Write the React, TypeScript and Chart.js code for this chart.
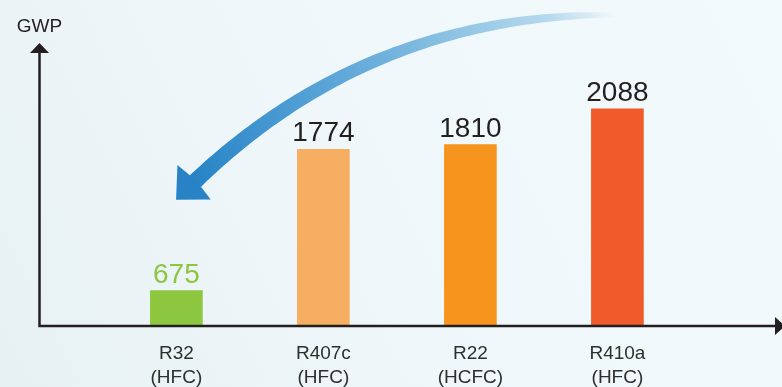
import React, { useEffect, useRef } from "react";
import { Chart, registerables } from "chart.js";

Chart.register(...registerables);

// Refrigerants and their global warming potential
const refrigerants = ["R32", "R407c", "R22", "R410a"];
const refrigerantTypes = ["(HFC)", "(HFC)", "(HCFC)", "(HFC)"];
const gwpValues = [675, 1774, 1810, 2088];
const barColors = ["#8dc63f", "#f6ae62", "#f7941e", "#f15a2b"];
const valueColors = ["#8dc63f", "#231f20", "#231f20", "#231f20"];
const yAxisTitle = "GWP";

const FONT = '"Liberation Sans", Arial, Helvetica, sans-serif';
const INK = "#231f20";

type Pt = { x: number; y: number };

function bezier(p0: Pt, c1: Pt, c2: Pt, p3: Pt, t: number): Pt {
  const u = 1 - t;
  const a = u * u * u, b = 3 * u * u * t, c = 3 * u * t * t, d = t * t * t;
  return {
    x: a * p0.x + b * c1.x + c * c2.x + d * p3.x,
    y: a * p0.y + b * c1.y + c * c2.y + d * p3.y,
  };
}

function bezierTangent(p0: Pt, c1: Pt, c2: Pt, p3: Pt, t: number): Pt {
  const u = 1 - t;
  const x = 3 * u * u * (c1.x - p0.x) + 6 * u * t * (c2.x - c1.x) + 3 * t * t * (p3.x - c2.x);
  const y = 3 * u * u * (c1.y - p0.y) + 6 * u * t * (c2.y - c1.y) + 3 * t * t * (p3.y - c2.y);
  const l = Math.hypot(x, y) || 1;
  return { x: x / l, y: y / l };
}

// Soft background, the sweeping blue arrow, axes with arrowheads and value labels
const decorPlugin = {
  id: "decor",
  beforeDraw(chart: any) {
    const { ctx, width, height } = chart;
    ctx.save();
    const g = ctx.createLinearGradient(width, 0, 0, height);
    g.addColorStop(0, "#f3fafc");
    g.addColorStop(0.55, "#eff7fa");
    g.addColorStop(1, "#e7f0f3");
    ctx.fillStyle = g;
    ctx.fillRect(0, 0, width, height);
    ctx.restore();
  },
  beforeDatasetsDraw(chart: any) {
    const { ctx, scales } = chart;
    const xs = scales.x;
    const fromX = xs.getPixelForValue(refrigerants.length - 1) + 2;
    const toX = xs.getPixelForValue(0);
    const p0 = { x: fromX, y: 15 };
    const p3 = { x: toX + 17, y: 183 };
    const c1 = { x: p0.x - 180, y: 13 };
    const c2 = { x: p3.x + 108, y: p3.y - 104 };

    const N = 80;
    const left: Pt[] = [];
    const right: Pt[] = [];
    for (let i = 0; i <= N; i++) {
      const t = i / N;
      const p = bezier(p0, c1, c2, p3, t);
      const tg = bezierTangent(p0, c1, c2, p3, t);
      const w = (3 + 13 * Math.sqrt(t)) / 2;
      left.push({ x: p.x - tg.y * w, y: p.y + tg.x * w });
      right.push({ x: p.x + tg.y * w, y: p.y - tg.x * w });
    }

    const grad = ctx.createLinearGradient(p0.x, p0.y, p3.x, p3.y);
    grad.addColorStop(0, "rgba(225,240,248,0)");
    grad.addColorStop(0.06, "rgba(200,226,242,0.6)");
    grad.addColorStop(0.14, "#b8daee");
    grad.addColorStop(0.3, "#98c9e6");
    grad.addColorStop(0.52, "#6eb0dc");
    grad.addColorStop(0.75, "#4b9bd3");
    grad.addColorStop(1, "#2783c5");

    ctx.save();
    ctx.fillStyle = grad;
    ctx.beginPath();
    ctx.moveTo(left[0].x, left[0].y);
    for (const p of left) ctx.lineTo(p.x, p.y);
    for (let i = right.length - 1; i >= 0; i--) ctx.lineTo(right[i].x, right[i].y);
    ctx.closePath();
    ctx.fill();

    // arrowhead
    const d = bezierTangent(p0, c1, c2, p3, 1);
    const n = { x: -d.y, y: d.x };
    const tip = { x: p3.x + d.x * 24, y: p3.y + d.y * 24 };
    ctx.fillStyle = "#2783c5";
    ctx.beginPath();
    ctx.moveTo(tip.x, tip.y);
    ctx.lineTo(p3.x + n.x * 24 - d.x, p3.y + n.y * 24 - d.y);
    ctx.lineTo(p3.x + n.x * 7 - d.x * 3, p3.y + n.y * 7 - d.y * 3);
    ctx.lineTo(p3.x - n.x * 7 - d.x * 3, p3.y - n.y * 7 - d.y * 3);
    ctx.lineTo(p3.x - n.x * 24 - d.x, p3.y - n.y * 24 - d.y);
    ctx.closePath();
    ctx.fill();
    ctx.restore();
  },
  afterDatasetsDraw(chart: any) {
    const { ctx, chartArea: a } = chart;
    ctx.save();
    ctx.strokeStyle = INK;
    ctx.fillStyle = INK;
    ctx.lineWidth = 2.5;
    ctx.lineJoin = "miter";
    ctx.beginPath();
    ctx.moveTo(a.left, a.top + 8);
    ctx.lineTo(a.left, a.bottom);
    ctx.lineTo(a.right, a.bottom);
    ctx.stroke();

    ctx.beginPath();
    ctx.moveTo(a.left, a.top);
    ctx.lineTo(a.left - 9.5, a.top + 10);
    ctx.lineTo(a.left + 9.5, a.top + 10);
    ctx.closePath();
    ctx.fill();

    ctx.beginPath();
    ctx.moveTo(a.right + 10, a.bottom);
    ctx.lineTo(a.right, a.bottom - 9);
    ctx.lineTo(a.right, a.bottom + 9);
    ctx.closePath();
    ctx.fill();

    ctx.font = `19px ${FONT}`;
    ctx.textAlign = "center";
    ctx.textBaseline = "alphabetic";
    ctx.fillText(yAxisTitle, a.left, a.top - 11);

    const meta = chart.getDatasetMeta(0);
    ctx.font = `28px ${FONT}`;
    meta.data.forEach((bar: any, i: number) => {
      ctx.fillStyle = valueColors[i];
      ctx.fillText(String(gwpValues[i]), bar.x, bar.y - 8);
    });
    ctx.restore();
  },
};

export default function App() {
  const canvasRef = useRef<HTMLCanvasElement | null>(null);

  useEffect(() => {
    const canvas = canvasRef.current;
    if (!canvas) return;
    const chart = new Chart(canvas, {
      type: "bar",
      data: {
        datasets: [
          {
            data: gwpValues.map((y, i) => ({ x: i, y })),
            backgroundColor: barColors,
            borderWidth: 0,
            barThickness: 52,
          },
        ],
      },
      options: {
        animation: false,
        responsive: false,
        devicePixelRatio: 1,
        layout: { padding: { left: 39.5, right: 7, top: 43, bottom: 0 } },
        plugins: {
          legend: { display: false },
          tooltip: { enabled: false },
        },
        scales: {
          x: {
            type: "linear",
            offset: false,
            min: -0.931,
            max: 4.072,
            grid: { display: false, drawTicks: false, offset: false },
            border: { display: false },
            afterBuildTicks: (s: any) => {
              s.ticks = refrigerants.map((_, i) => ({ value: i }));
            },
            afterFit: (s: any) => {
              s.height = 61;
            },
            ticks: {
              autoSkip: false,
              maxRotation: 0,
              padding: 16,
              color: "#2e2e2e",
              font: { family: FONT, size: 19, lineHeight: 1.27 },
              callback: (v: any) => [refrigerants[v], refrigerantTypes[v]],
            },
          },
          y: { display: false, min: 400, max: 2600 },
        },
      },
      plugins: [decorPlugin],
    } as any);
    return () => chart.destroy();
  }, []);

  return (
    <div style={{ position: "fixed", left: 0, top: 0, width: 782, height: 387 }}>
      <canvas ref={canvasRef} width={782} height={387} />
    </div>
  );
}
